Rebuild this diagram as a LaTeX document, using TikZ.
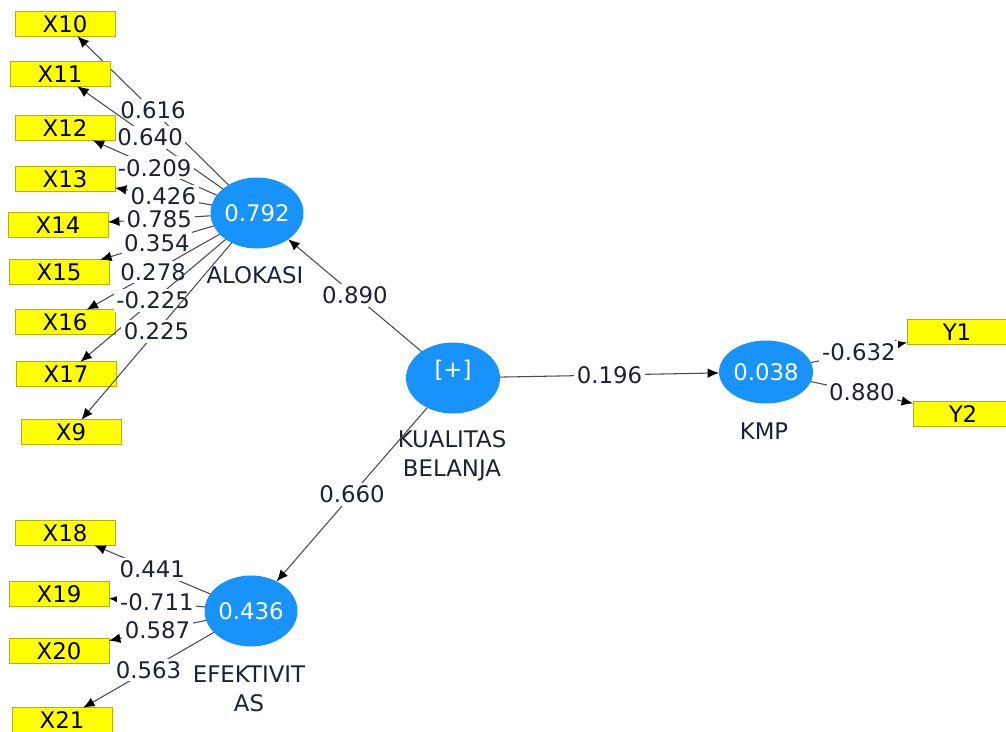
\documentclass[tikz,border=0pt]{standalone}
\usepackage{fontspec}
\setmainfont{DejaVu Sans}
\usetikzlibrary{arrows.meta,positioning,shapes.geometric}
\definecolor{plsblue}{HTML}{1793FB}
\definecolor{plsyellow}{HTML}{FFFF00}
\definecolor{plsline}{HTML}{4A4A4A}
\definecolor{plstext}{HTML}{1C2330}

\begin{document}
\begin{tikzpicture}[x=0.02cm,y=-0.02cm,font=\fontsize{13}{16.5}\selectfont,
        ind/.style={draw=plsyellow!70!black,fill=plsyellow,minimum width=2cm,
          minimum height=0.49cm,inner sep=0pt,outer sep=0pt,text=black},
        lv/.style={ellipse,fill=plsblue,minimum width=1.86cm,minimum height=1.42cm,
          inner sep=0pt,outer sep=0pt,text=white},
        nm/.style={text=plstext,align=center},
        w/.style={fill=white,inner sep=1.5pt,text=plstext},
        ld/.style={-{Latex[length=6.5pt,width=5.5pt,color=black]},plsline,line width=0.6pt}]
        \useasboundingbox (0,0) rectangle (1006,731);
        % latent variables
        \node[lv] (alo) at (257,213) {0.792};
        \node[lv,minimum width=1.88cm] (kb) at (453,378)
          {\raisebox{0.8em}{[+]}\vphantom{0}};
        \node[lv,minimum width=1.88cm,minimum height=1.26cm] (kmp) at (766,372) {0.038};
        \node[lv] (efk) at (251,611) {0.436};
        \node[nm] (alon) at (255,275) {ALOKASI};
        \node[nm] (kbn) at (452,456) {KUALITAS\\BELANJA};
        \node[nm] (kmpn) at (764,431) {KMP};
        \node[nm] (efkn) at (249,689) {EFEKTIVIT\\AS};
        % inner model
        \draw[ld] (kb)--node[w]{0.890} (alo);
        \draw[ld] (kb)--node[w]{0.196} (kmp);
        \draw[ld] (kb)--node[w]{0.660} (efk);
        % outer model
        \foreach \n/\x/\y/\v in {X10/65/24/0.616,X11/60/74/0.640,X12/65/128/-0.209,
            X13/65/179/0.426,X14/58/225/0.785,X15/59/272/0.354,X16/65/322/0.278,
            X17/66/374/-0.225,X9/71/432/0.225}{
          \node[ind] (\n) at (\x,\y) {\n};
          \draw[ld] (alo)--node[w]{\v} (\n);
        }
        \foreach \n/\x/\y/\v in {X18/65/533/0.441,X19/59/594/-0.711,
            X20/59/651/0.587,X21/62/720/0.563}{
          \node[ind] (\n) at (\x,\y) {\n};
          \draw[ld] (efk)--node[w]{\v} (\n);
        }
        \node[ind] (Y1) at (957,332) {Y1};
        \node[ind] (Y2) at (963,414) {Y2};
        \draw[ld] (kmp)--node[w]{-0.632} (Y1);
        \draw[ld] (kmp)--node[w]{0.880} (Y2);
      \end{tikzpicture}
\end{document}
